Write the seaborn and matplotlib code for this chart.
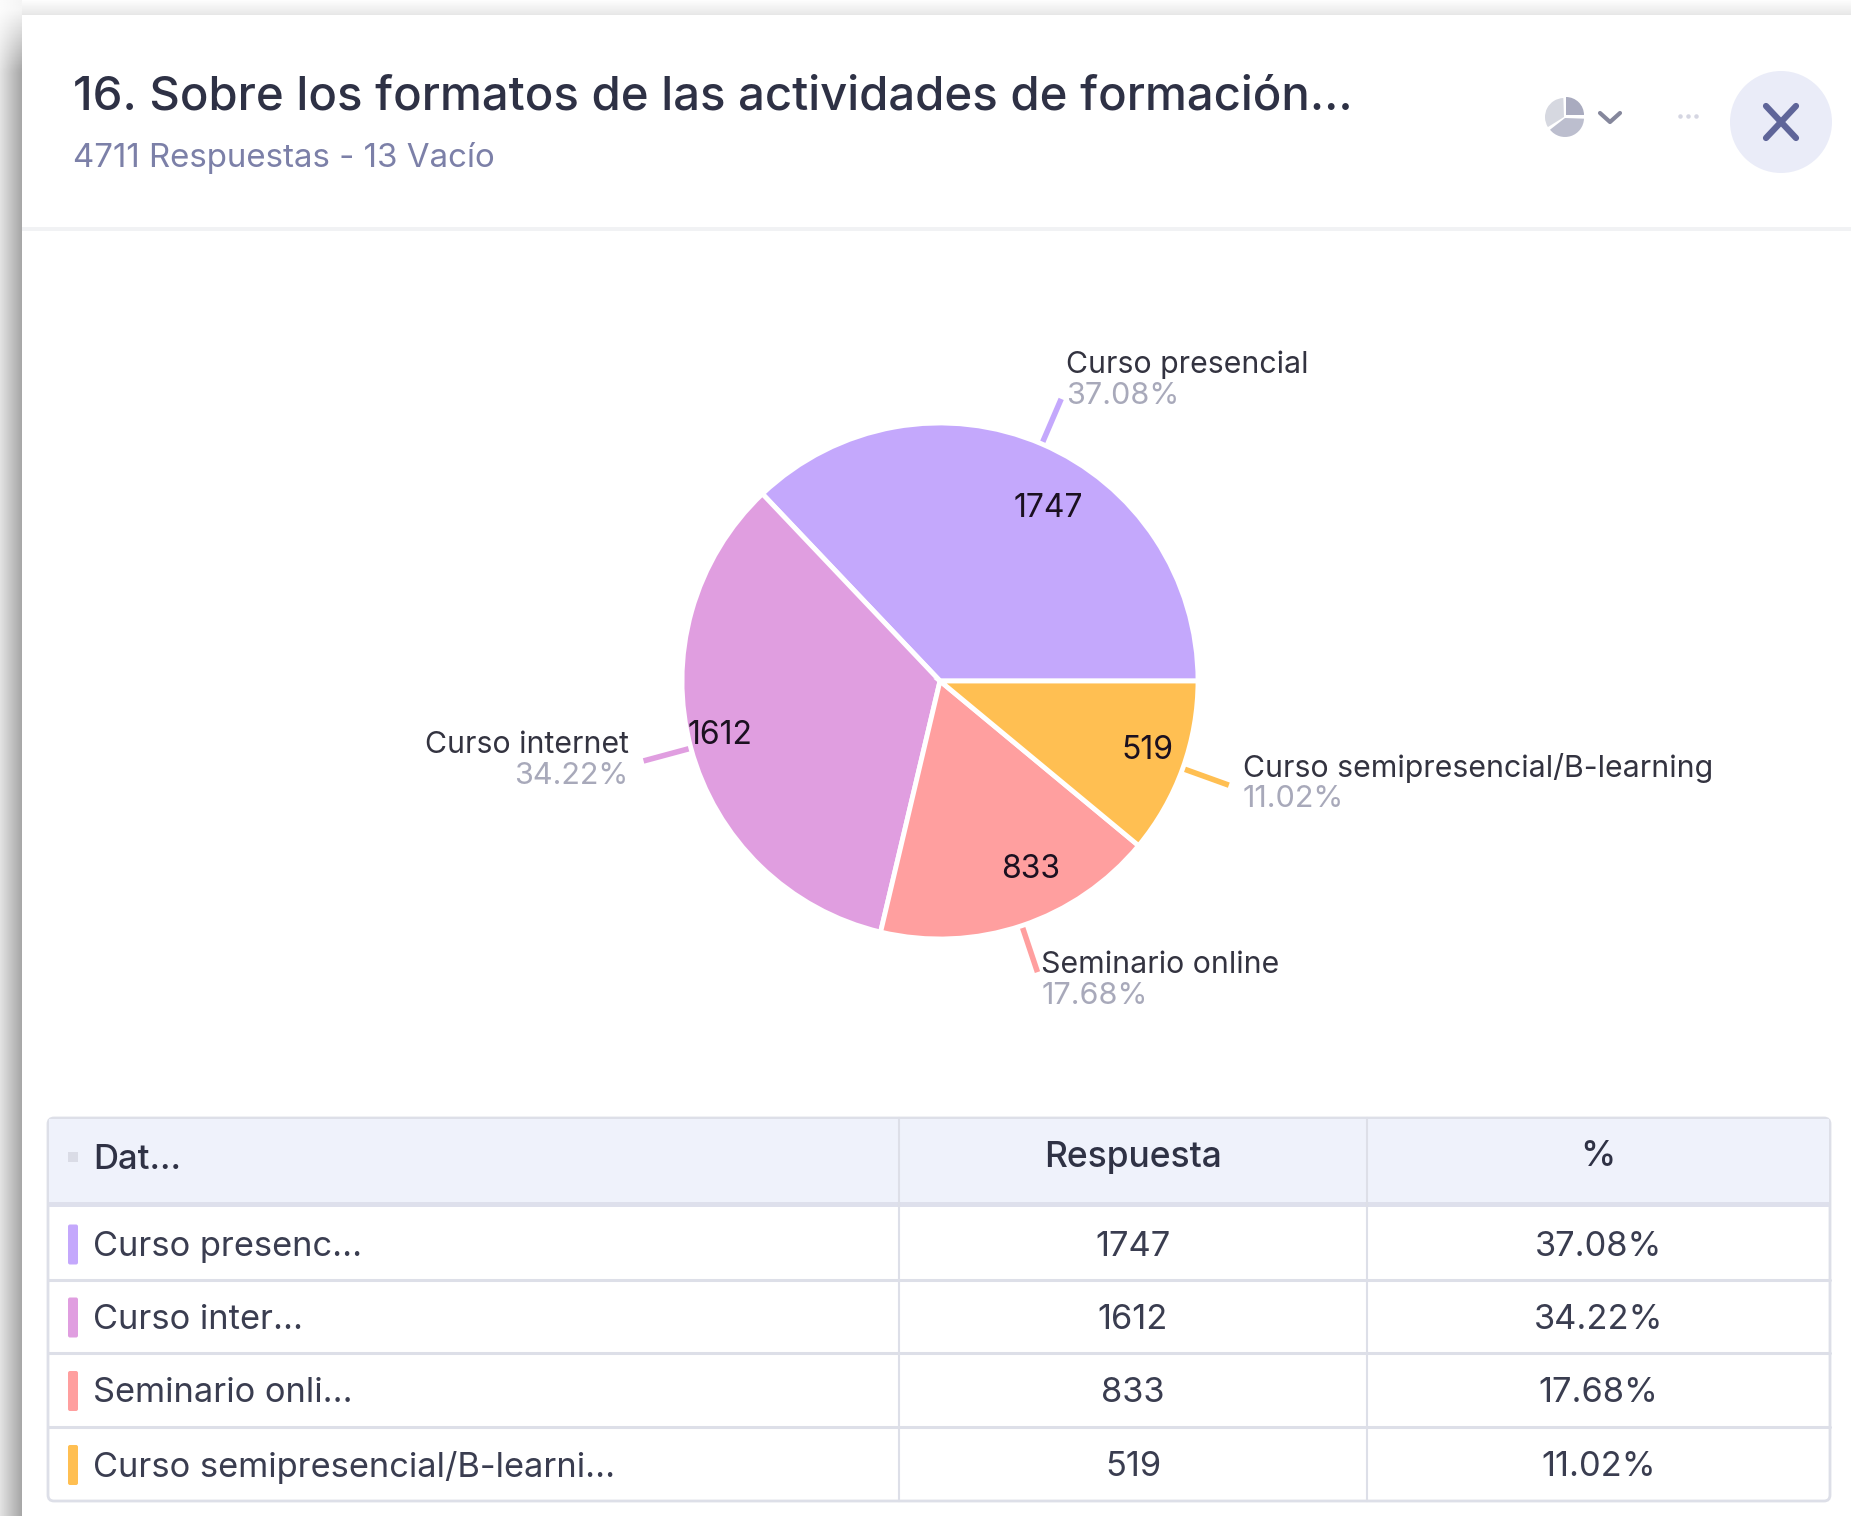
import numpy as np
import pandas as pd
import seaborn as sns
import matplotlib
matplotlib.use('Agg')
import matplotlib.pyplot as plt
from matplotlib.patches import Rectangle, Circle, Wedge, FancyBboxPatch

W, H = 1851, 1516

# data
categories = ['Curso presencial', 'Curso internet', 'Seminario online', 'Curso semipresencial/B-learning']
short_names = ['Curso presenc...', 'Curso inter...', 'Seminario onli...', 'Curso semipresencial/B-learni...']
responses = [1747, 1612, 833, 519]
percents = ['37.08%', '34.22%', '17.68%', '11.02%']
col_headers = ['Dat...', 'Respuesta', '%']
title = '16. Sobre los formatos de las actividades de formación...'
subtitle = '4711 Respuestas - 13 Vacío'
colors = ['#C4A8FC', '#E09EE0', '#FF9F9F', '#FFBF52']

sns.set_theme(style='white')
plt.rcParams['font.family'] = ['Inter', 'DejaVu Sans']
pal = sns.color_palette(colors)

df = pd.DataFrame({'name': categories, 'short': short_names, 'n': responses, 'pct': percents})

fig = plt.figure(figsize=(W / 100, H / 100), dpi=100)
ax = fig.add_axes([0, 0, 1, 1])

def Y(py):
    return H - py

# shadow round the panel, fades out towards the top corner
xx, yy = np.meshgrid(np.linspace(0, 1, 60), np.linspace(0, H, 400))
fade = np.clip(yy / 70, 0.12, 1)
shade = 1 - (0.11 + 0.25 * xx) * fade
ax.imshow(shade, cmap='gray', vmin=0, vmax=1, aspect='auto',
          extent=(0, 22, 0, H), origin='upper', zorder=0)
top = np.linspace(0.99, 0.9, 16)[:, None]
ax.imshow(top, cmap='gray', vmin=0, vmax=1, aspect='auto',
          extent=(22, W, Y(16), H), origin='upper', zorder=0)
ax.add_patch(Rectangle((22, 0), W - 22, Y(15), fc='white', ec='none', zorder=1))

# header
ax.text(73, Y(98), title, fontsize=34.05, color='#2E3145', va='center', ha='left', zorder=3, fontweight='medium')
ax.text(73, Y(158), subtitle, fontsize=23.8, color='#7C80A8', va='center', ha='left', zorder=3)
ax.add_patch(Rectangle((22, Y(231)), W - 22, 4, fc='#F1F2F4', ec='none', zorder=2))

# pie type icon
ax.add_patch(Wedge((1564, Y(117)), 19, 92, 212, fc='#D6D8E0', ec='none', zorder=3))
ax.add_patch(Wedge((1566, Y(115)), 18, 0, 90, fc='#A9ABBF', ec='none', zorder=3))
ax.add_patch(Wedge((1565, Y(118)), 19, 218, 358, fc='#BCBECE', ec='none', zorder=3))
ax.plot([1600, 1610, 1620], [Y(113), Y(122), Y(113)], color='#85879C', lw=3, solid_capstyle='round', zorder=3)
ax.scatter([1680, 1688, 1696], [Y(116)] * 3, s=5, color='#D5D6E2', zorder=3)

# close button
ax.add_patch(Circle((1781, Y(122)), 51, fc='#EAECF8', ec='none', zorder=2))
for s in (1, -1):
    ax.plot([1766, 1796], [Y(122 - 16 * s), Y(122 + 16 * s)], color='#5F6599', lw=4.5,
            solid_capstyle='round', zorder=3)

# pie
cx, cy, r = 940, Y(681), 258
wedges, _ = ax.pie(df['n'], colors=pal, center=(cx, cy), radius=r, startangle=0,
                   counterclock=True, frame=True,
                   wedgeprops={'edgecolor': 'white', 'linewidth': 3.5, 'zorder': 3})

value_radius = [0.805, 0.876, 0.795, 0.845]
value_shift = [-8.3, -2.2, 7.6, 2.25]
label_anchor = [
    ('left', 5, 34), ('right', -15, 16), ('left', 4, 7), ('left', 14, 17),
]

for i, w in enumerate(wedges):
    mid = np.deg2rad((w.theta1 + w.theta2) / 2)
    ux, uy = np.cos(mid), np.sin(mid)
    # leader line
    x0, y0 = cx + r * ux, cy + r * uy
    x1, y1 = cx + r * 1.19 * ux, cy + r * 1.19 * uy
    ax.plot([x0, x1], [y0, y1], color=pal[i], lw=4, solid_capstyle='butt', zorder=2)
    # count inside the slice
    a = mid + np.deg2rad(value_shift[i])
    ax.text(cx + r * value_radius[i] * np.cos(a), cy + r * value_radius[i] * np.sin(a) - 4,
            str(df['n'][i]), fontsize=23, color='#1B1020', ha='center', va='center', zorder=4)
    # name and share outside
    ha, dx, dy = label_anchor[i]
    ax.text(x1 + dx, y1 + dy, df['name'][i], fontsize=21.8, color='#333340', ha=ha, va='center', zorder=4)
    ax.text(x1 + dx, y1 + dy - 31, df['pct'][i], fontsize=22, color='#A8A9BA', ha=ha, va='center', zorder=4)

# table
left, right, v1, v2 = 48, 1830, 899, 1367
tbl_top, head_bot, band_bot = 1118, 1202, 1207
row_lines = [1280, 1353, 1427, 1501]
edge = '#DDDFE8'
ax.add_patch(FancyBboxPatch((left, Y(1501)), right - left, 1501 - tbl_top,
                            boxstyle='round,pad=0,rounding_size=6', fc='white', ec=edge, lw=2, zorder=2))
ax.add_patch(Rectangle((left + 1, Y(head_bot)), right - left - 2, head_bot - tbl_top - 1, fc='#EFF2FB', ec='none', zorder=2))
ax.add_patch(Rectangle((left + 1, Y(band_bot)), right - left - 2, band_bot - head_bot, fc='#DEE0EC', ec='none', zorder=2))
for v in (v1, v2):
    ax.plot([v, v], [Y(tbl_top), Y(1501)], color=edge, lw=1.5, zorder=3)
for y in row_lines[:-1]:
    ax.plot([left, right], [Y(y), Y(y)], color=edge, lw=2.2, zorder=3)

ax.add_patch(Rectangle((68, Y(1162)), 10, 10, fc='#DADCE6', ec='none', zorder=3))
tcol = '#2F3245'
ax.text(93, Y(1160), col_headers[0], fontsize=25, color=tcol, va='center', ha='left', zorder=4, fontweight='medium')
ax.text((v1 + v2) / 2, Y(1157), col_headers[1], fontsize=25.5, color=tcol, va='center', ha='center', zorder=4, fontweight='medium')
ax.text((v2 + right) / 2 - 1, Y(1157), col_headers[2], fontsize=25.5, color=tcol, va='center', ha='center', zorder=4, fontweight='medium')

row_tops = [1207, 1280, 1353, 1427]
for i, (top_y, bot_y) in enumerate(zip(row_tops, row_lines)):
    mid_y = (top_y + bot_y) / 2 + 1
    ax.add_patch(FancyBboxPatch((68, Y(mid_y + 20)), 10, 40, boxstyle='round,pad=0,rounding_size=2',
                                fc=pal[i], ec='none', zorder=3))
    ty = mid_y + 2.5
    ax.text(93, Y(ty), df['short'][i], fontsize=24.8, color='#3A3D50', va='center', ha='left', zorder=4)
    ax.text((v1 + v2) / 2, Y(ty), str(df['n'][i]), fontsize=24.8, color='#3A3D50', va='center', ha='center', zorder=4)
    ax.text((v2 + right) / 2, Y(ty), df['pct'][i], fontsize=24.8, color='#3A3D50', va='center', ha='center', zorder=4)

ax.set_xlim(0, W)
ax.set_ylim(0, H)
ax.set_aspect('auto')
ax.axis('off')
fig.savefig('out.png', dpi=100)
